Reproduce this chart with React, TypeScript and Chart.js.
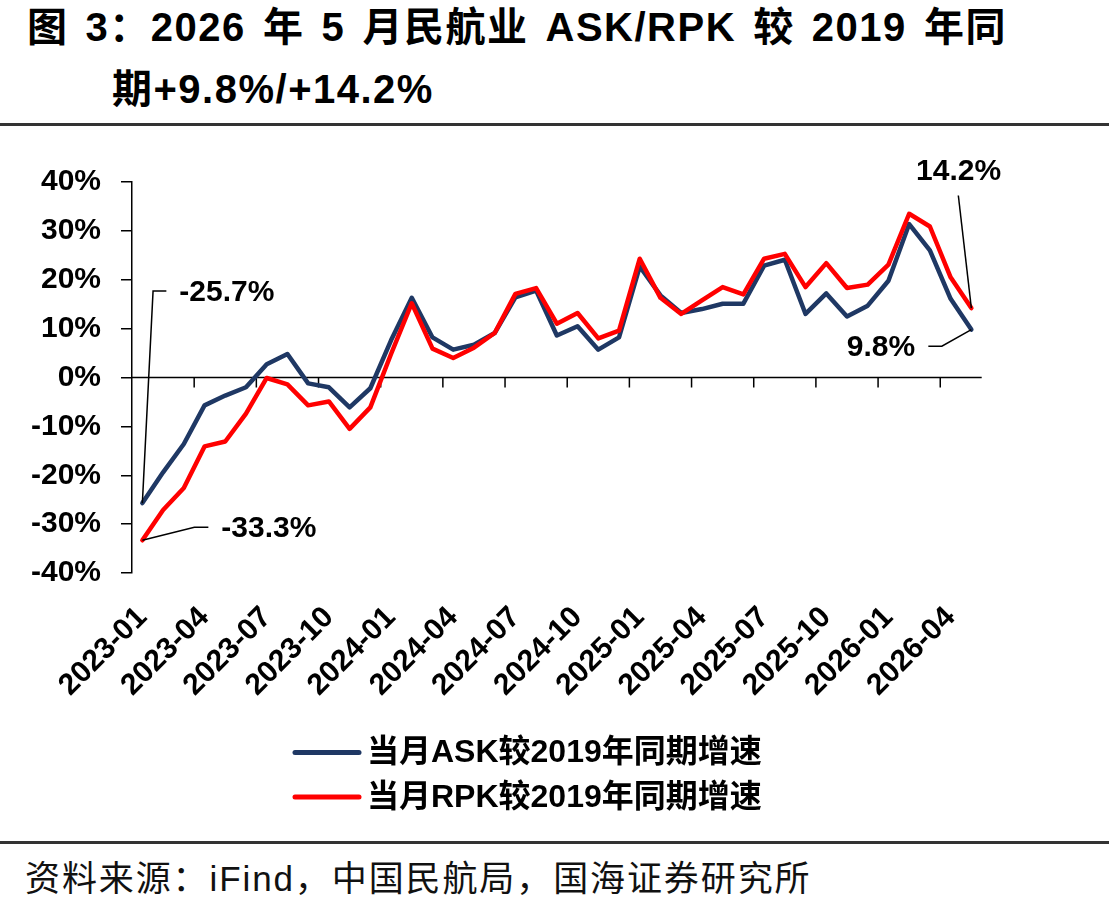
import React, { useEffect, useRef } from 'react';
import { Chart, registerables } from 'chart.js';

Chart.register(...registerables);

// Monthly categories, 2023-01 … 2026-05
const months = [
  '2023-01', '2023-02', '2023-03', '2023-04', '2023-05', '2023-06', '2023-07', '2023-08', '2023-09', '2023-10', '2023-11', '2023-12',
  '2024-01', '2024-02', '2024-03', '2024-04', '2024-05', '2024-06', '2024-07', '2024-08', '2024-09', '2024-10', '2024-11', '2024-12',
  '2025-01', '2025-02', '2025-03', '2025-04', '2025-05', '2025-06', '2025-07', '2025-08', '2025-09', '2025-10', '2025-11', '2025-12',
  '2026-01', '2026-02', '2026-03', '2026-04', '2026-05',
];

// Available seat kilometres, growth vs. same month of 2019 (%)
const askGrowth = [
  -25.7, -19.4, -13.6, -5.7, -3.7, -2.0, 2.7, 4.8, -1.2, -2.0, -6.1, -2.2,
  7.6, 16.3, 8.2, 5.7, 6.7, 9.1, 16.4, 17.8, 8.6, 10.5, 5.7, 8.2,
  22.7, 16.8, 13.2, 14.0, 15.1, 15.1, 22.9, 24.1, 13.0, 17.2, 12.5, 14.7,
  19.8, 31.4, 26.0, 16.1, 9.8,
];

// Revenue passenger kilometres, growth vs. same month of 2019 (%)
const rpkGrowth = [
  -33.3, -27.1, -22.6, -14.1, -13.1, -7.4, -0.1, -1.4, -5.7, -4.9, -10.5, -6.1,
  4.8, 15.2, 5.9, 4.0, 6.1, 9.1, 17.1, 18.3, 11.0, 13.2, 8.0, 9.6,
  24.3, 16.3, 13.0, 15.8, 18.5, 17.0, 24.3, 25.3, 18.5, 23.4, 18.3, 19.0,
  23.1, 33.5, 30.9, 20.5, 14.2,
];

const seriesNames = ['当月ASK较2019年同期增速', '当月RPK较2019年同期增速'];
const seriesColors = ['#1F3864', '#FF0000'];

const yMin = -40;
const yMax = 40;
const yStep = 10;
const labelEvery = 3;

const LATIN = '"Liberation Sans", Arial, "Noto Sans CJK SC", sans-serif';

// Callouts for the first and last month of each series: leader path and text offsets in px
const callouts = [
  { series: 0, index: 0, path: [[10.7, -212], [24, -212]], text: [37, -210], align: 'left' },
  { series: 1, index: 0, path: [[52, -13], [66, -13]], text: [79, -11.5], align: 'left' },
  { series: 1, index: 40, path: [[-13, -112.6]], text: [-12.7, -136], align: 'center' },
  { series: 0, index: 40, path: [[-29.5, 16.6], [-43, 16.6]], text: [-56.2, 18.4], align: 'right' },
];

// Horizontal axis at zero with downward tick marks between quarters
const zeroAxisPlugin = {
  id: 'zeroAxis',
  beforeDatasetsDraw(chart: any) {
    const { ctx, chartArea, scales } = chart;
    const x = scales.x;
    const y0 = scales.y.getPixelForValue(0);
    ctx.save();
    ctx.strokeStyle = '#000';
    ctx.lineWidth = 1.5;
    ctx.beginPath();
    ctx.moveTo(chartArea.left, y0);
    ctx.lineTo(chartArea.right, y0);
    for (let k = labelEvery; k < months.length; k += labelEvery) {
      const px = (x.getPixelForValue(k - 1) + x.getPixelForValue(k)) / 2;
      ctx.moveTo(px, y0);
      ctx.lineTo(px, y0 + 10);
    }
    ctx.stroke();
    ctx.restore();
  },
};

// Value callouts with leader lines
const calloutPlugin = {
  id: 'callouts',
  afterDatasetsDraw(chart: any) {
    const { ctx } = chart;
    ctx.save();
    ctx.strokeStyle = '#000';
    ctx.lineWidth = 1.5;
    ctx.fillStyle = '#000';
    ctx.font = `bold 30px ${LATIN}`;
    ctx.textBaseline = 'middle';
    for (const c of callouts) {
      const pt = chart.getDatasetMeta(c.series).data[c.index];
      const value = chart.data.datasets[c.series].data[c.index] as number;
      ctx.beginPath();
      ctx.moveTo(pt.x, pt.y);
      for (const [dx, dy] of c.path) ctx.lineTo(pt.x + dx, pt.y + dy);
      ctx.stroke();
      ctx.textAlign = c.align;
      ctx.fillText(`${value.toFixed(1)}%`, pt.x + c.text[0], pt.y + c.text[1]);
    }
    ctx.restore();
  },
};

// Two-row legend under the axis labels
const stackedLegendPlugin = {
  id: 'stackedLegend',
  afterDraw(chart: any) {
    const { ctx } = chart;
    const rows = [622.5, 667];
    ctx.save();
    ctx.font = `bold 32px ${LATIN}`;
    ctx.textBaseline = 'middle';
    ctx.textAlign = 'left';
    chart.data.datasets.forEach((ds: any, i: number) => {
      const y = rows[i];
      ctx.strokeStyle = ds.borderColor;
      ctx.lineWidth = 5;
      ctx.lineCap = 'round';
      ctx.beginPath();
      ctx.moveTo(295, y);
      ctx.lineTo(359, y);
      ctx.stroke();
      ctx.fillStyle = '#000';
      ctx.fillText(ds.label, 367, y + 1);
    });
    ctx.restore();
  },
};

function AirlineChart() {
  const canvasRef = useRef<HTMLCanvasElement | null>(null);

  useEffect(() => {
    if (!canvasRef.current) return;
    const chart = new Chart(canvasRef.current, {
      type: 'line',
      data: {
        labels: months,
        datasets: [
          {
            label: seriesNames[0],
            data: askGrowth,
            borderColor: seriesColors[0],
            backgroundColor: seriesColors[0],
            borderWidth: 4.5,
            pointRadius: 0,
            tension: 0,
            borderJoinStyle: 'round',
            borderCapStyle: 'round',
            order: 1,
          },
          {
            label: seriesNames[1],
            data: rpkGrowth,
            borderColor: seriesColors[1],
            backgroundColor: seriesColors[1],
            borderWidth: 4.5,
            pointRadius: 0,
            tension: 0,
            borderJoinStyle: 'round',
            borderCapStyle: 'round',
            order: 0,
          },
        ],
      },
      options: {
        animation: false,
        responsive: true,
        maintainAspectRatio: false,
        layout: { padding: { top: 52, left: 8, right: 127.3, bottom: 117 } },
        plugins: {
          legend: { display: false },
          tooltip: { enabled: false },
        },
        scales: {
          x: {
            type: 'category',
            offset: true,
            grid: { display: false, drawTicks: false },
            border: { display: false },
            afterFit: (scale: any) => {
              scale.height = 150;
            },
            ticks: {
              autoSkip: false,
              maxRotation: 45,
              minRotation: 45,
              padding: 27,
              color: '#000',
              font: { family: LATIN, size: 30, weight: 'bold' },
              callback: (_v: any, i: number) => (i % labelEvery === 0 ? months[i] : ''),
            },
          },
          y: {
            min: yMin,
            max: yMax,
            afterFit: (scale: any) => {
              scale.width = 124;
            },
            grid: {
              drawOnChartArea: false,
              drawTicks: true,
              tickLength: 11,
              color: '#000',
              lineWidth: 1.5,
            },
            border: { display: true, color: '#000', width: 1.5 },
            ticks: {
              stepSize: yStep,
              padding: 20,
              color: '#000',
              font: { family: LATIN, size: 30, weight: 'bold' },
              callback: (v: any) => `${v}%`,
            },
          },
        },
      },
      plugins: [zeroAxisPlugin, calloutPlugin, stackedLegendPlugin],
    });
    return () => chart.destroy();
  }, []);

  return (
    <div style={{ position: 'absolute', left: 0, top: 130, width: 1109, height: 710 }}>
      <canvas ref={canvasRef} />
    </div>
  );
}

export default function App() {
  const titleStyle: React.CSSProperties = {
    position: 'absolute',
    fontFamily: LATIN,
    fontWeight: 'bold',
    fontSize: 40,
    lineHeight: '40px',
    letterSpacing: 1.5,
    wordSpacing: 4.5,
    color: '#000',
    whiteSpace: 'nowrap',
  };
  return (
    <div
      style={{
        position: 'fixed',
        left: 0,
        top: 0,
        width: 1109,
        height: 909,
        background: '#fff',
        overflow: 'hidden',
      }}
    >
      <div style={{ ...titleStyle, left: 27, top: 7 }}>图 3：2026 年 5 月民航业 ASK/RPK 较 2019 年同</div>
      <div style={{ ...titleStyle, left: 112, top: 69 }}>期+9.8%/+14.2%</div>
      <div style={{ position: 'absolute', left: 0, top: 123, width: 1109, height: 3, background: '#333' }} />
      <AirlineChart />
      <div style={{ position: 'absolute', left: 0, top: 841, width: 1109, height: 3, background: '#333' }} />
      <div
        style={{
          position: 'absolute',
          left: 25,
          top: 859,
          fontFamily: LATIN,
          fontSize: 35,
          lineHeight: '40px',
          letterSpacing: 1.9,
          color: '#111',
          whiteSpace: 'nowrap',
        }}
      >
        资料来源：iFind，中国民航局，国海证券研究所
      </div>
    </div>
  );
}
